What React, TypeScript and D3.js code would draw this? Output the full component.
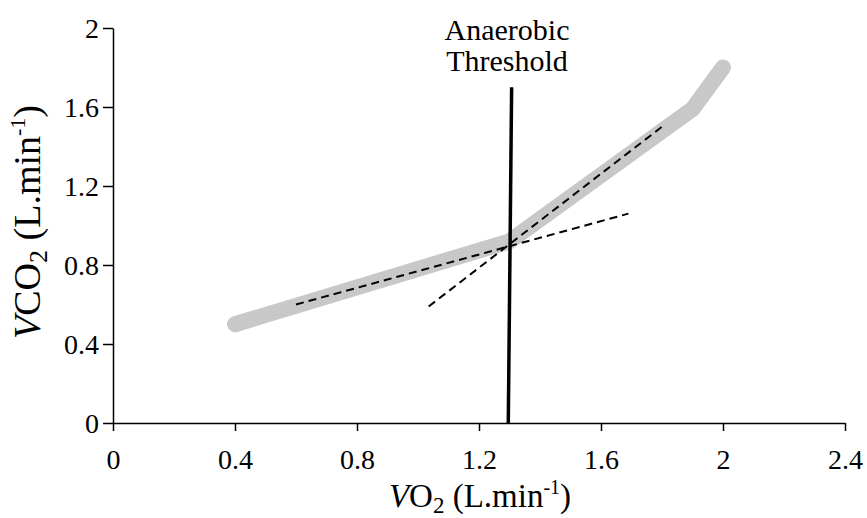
import React, { useEffect, useRef } from "react";
import * as d3 from "d3";

const xTicks = [0, 0.4, 0.8, 1.2, 1.6, 2, 2.4];
const yTicks = [0, 0.4, 0.8, 1.2, 1.6, 2];
const vo2 = [0.4, 1.3, 1.9, 2.0];
const vco2 = [0.5, 0.92, 1.59, 1.8];
const lowFitX = [0.6, 1.69];
const lowFitY = [0.6, 1.06];
const highFitX = [1.035, 1.8];
const highFitY = [0.59, 1.5];
const thresholdX = [1.296, 1.307];
const thresholdY = [0, 1.7];
const thresholdLabel = ["Anaerobic", "Threshold"];

export default function App() {
  const ref = useRef<SVGSVGElement>(null);
  useEffect(() => {
    const svg = d3.select(ref.current);
    svg.selectAll("*").remove();
    const font = "'Liberation Serif', 'Times New Roman', serif";
    const x = d3.scaleLinear().domain([0, 2.4]).range([113, 845]);
    const y = d3.scaleLinear().domain([0, 2]).range([423, 28]);

    const line = d3
      .line<[number, number]>()
      .x((d) => x(d[0]))
      .y((d) => y(d[1]));

    svg
      .append("path")
      .attr("d", line(vo2.map((v, i) => [v, vco2[i]] as [number, number])))
      .attr("fill", "none")
      .attr("stroke", "#c8c8c8")
      .attr("stroke-width", 16)
      .attr("stroke-linecap", "round")
      .attr("stroke-linejoin", "miter");

    [
      [lowFitX, lowFitY],
      [highFitX, highFitY],
    ].forEach(([xs, ys]) => {
      svg
        .append("path")
        .attr("d", line(xs.map((v, i) => [v, ys[i]] as [number, number])))
        .attr("fill", "none")
        .attr("stroke", "#000")
        .attr("stroke-width", 2)
        .attr("stroke-dasharray", "8,5");
    });

    svg
      .append("path")
      .attr("d", line(thresholdX.map((v, i) => [v, thresholdY[i]] as [number, number])))
      .attr("fill", "none")
      .attr("stroke", "#000")
      .attr("stroke-width", 3.5);

    const tl = svg
      .append("text")
      .attr("font-family", font)
      .attr("font-size", 30)
      .attr("text-anchor", "middle")
      .attr("fill", "#000");
    thresholdLabel.forEach((t, i) => {
      tl.append("tspan").attr("x", 507).attr("y", 40 + i * 31).text(t);
    });

    const xAxis = svg
      .append("g")
      .attr("transform", `translate(0,${y(0)})`)
      .call(d3.axisBottom(x).tickValues(xTicks).tickSize(8).tickSizeOuter(0).tickFormat((d) => String(d)));
    const yAxis = svg
      .append("g")
      .attr("transform", `translate(${x(0)},0)`)
      .call(d3.axisLeft(y).tickValues(yTicks).tickSize(10).tickSizeOuter(0).tickFormat((d) => String(d)));
    [xAxis, yAxis].forEach((g) => {
      g.select(".domain").attr("stroke", "#000").attr("stroke-width", 1.5);
      g.selectAll(".tick line").attr("stroke", "#000").attr("stroke-width", 1.5);
      g.selectAll(".tick text")
        .attr("font-family", font)
        .attr("font-size", 28)
        .attr("fill", "#000");
    });
    xAxis.selectAll(".tick text").attr("y", 0).attr("dy", 46);
    yAxis.selectAll(".tick text").attr("x", -14).attr("dy", "0.35em");

    const xl = svg
      .append("text")
      .attr("x", 480)
      .attr("y", 507)
      .attr("text-anchor", "middle")
      .attr("font-family", font)
      .attr("font-size", 33)
      .attr("fill", "#000");
    xl.append("tspan").attr("font-style", "italic").text("V");
    xl.append("tspan").text("O");
    xl.append("tspan").attr("font-size", 23).attr("dy", 6).text("2");
    xl.append("tspan").attr("dy", -6).text(" (L.min");
    xl.append("tspan").attr("font-size", 20).attr("dy", -13).text("-1");
    xl.append("tspan").attr("dy", 13).text(")");

    const yl = svg
      .append("text")
      .attr("transform", `translate(40,222) rotate(-90)`)
      .attr("text-anchor", "middle")
      .attr("font-family", font)
      .attr("font-size", 38)
      .attr("fill", "#000");
    yl.append("tspan").attr("font-style", "italic").text("V");
    yl.append("tspan").text("CO");
    yl.append("tspan").attr("font-size", 26).attr("dy", 7).text("2");
    yl.append("tspan").attr("dy", -7).text(" (L.min");
    yl.append("tspan").attr("font-size", 22).attr("dy", -15).text("-1");
    yl.append("tspan").attr("dy", 15).text(")");
  }, []);
  return (
    <svg
      ref={ref}
      width={867}
      height={518}
      style={{ position: "absolute", left: 0, top: 0, background: "#fff" }}
    />
  );
}
